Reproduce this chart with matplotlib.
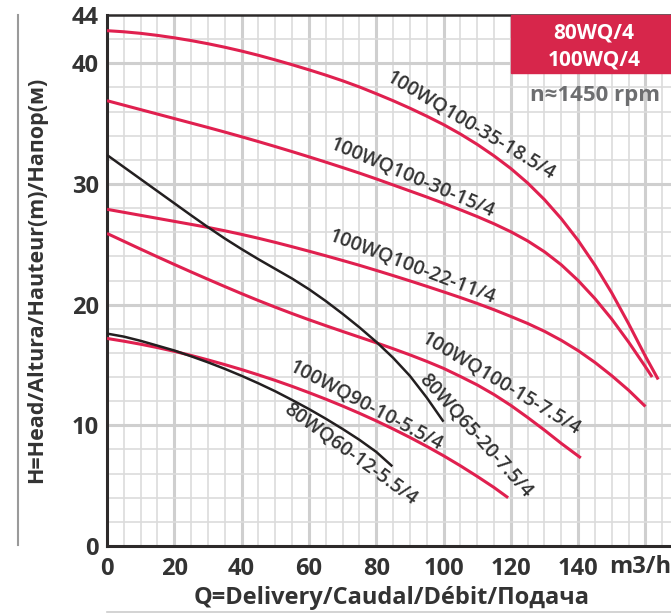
import matplotlib
matplotlib.use("Agg")
import matplotlib.pyplot as plt
from matplotlib.lines import Line2D
from matplotlib.patches import Rectangle

plt.rcParams['font.family'] = ['Open Sans', 'DejaVu Sans']

# flow (m3/h) and head (m)
q_35 = [0, 5, 10, 15, 20, 25, 30, 35, 40, 45, 50, 55, 60, 65, 70, 75, 80, 85, 90, 95,
        100, 105, 110, 115, 120, 125, 130, 135, 140, 145, 150, 155, 160, 163.8]
h_35 = [42.7, 42.61, 42.48, 42.31, 42.11, 41.88, 41.62, 41.33, 41.01, 40.66, 40.28, 39.88, 39.46, 39.02, 38.55, 38.04, 37.48, 36.9, 36.28, 35.62,
        34.92, 34.14, 33.28, 32.33, 31.28, 30.08, 28.7, 27.12, 25.32, 23.27, 20.97, 18.42, 15.72, 13.8]

q_30 = [0, 5, 10, 15, 20, 25, 30, 35, 40, 45, 50, 55, 60, 65, 70, 75, 80, 85, 90, 95,
        100, 105, 110, 115, 120, 125, 130, 135, 140, 145, 150, 155, 160, 162]
h_30 = [36.9, 36.53, 36.16, 35.79, 35.42, 35.05, 34.68, 34.3, 33.91, 33.51, 33.1, 32.68, 32.25, 31.81, 31.36, 30.9, 30.42, 29.92, 29.42, 28.92,
        28.4, 27.86, 27.3, 26.7, 26.04, 25.28, 24.38, 23.3, 22.0, 20.5, 18.8, 16.9, 14.85, 14.0]

q_22 = [0, 5, 10, 15, 20, 25, 30, 35, 40, 45, 50, 55, 60, 65, 70, 75, 80, 85, 90, 95,
        100, 105, 110, 115, 120, 125, 130, 135, 140, 145, 150, 155, 160]
h_22 = [27.9, 27.65, 27.4, 27.15, 26.9, 26.65, 26.4, 26.12, 25.82, 25.5, 25.16, 24.8, 24.43, 24.05, 23.66, 23.26, 22.84, 22.41, 21.97, 21.52,
        21.06, 20.59, 20.1, 19.58, 19.02, 18.44, 17.79, 17.04, 16.19, 15.21, 14.11, 12.91, 11.56]

q_15 = [0, 5, 10, 15, 20, 25, 30, 35, 40, 45, 50, 55, 60, 65, 70, 75, 80, 85, 90, 95,
        100, 105, 110, 115, 120, 125, 130, 135, 140.8]
h_15 = [25.9, 25.25, 24.6, 23.96, 23.33, 22.71, 22.1, 21.5, 20.91, 20.34, 19.79, 19.26, 18.75, 18.26, 17.78, 17.31, 16.84, 16.35, 15.84, 15.3,
        14.72, 14.05, 13.35, 12.55, 11.65, 10.65, 9.6, 8.5, 7.3]

q_90 = [0, 5, 10, 15, 20, 25, 30, 35, 40, 45, 50, 55, 60, 65, 70, 75, 80, 85, 90, 95,
        100, 105, 110, 115, 119.2]
h_90 = [17.2, 16.97, 16.72, 16.44, 16.13, 15.79, 15.42, 15.03, 14.62, 14.18, 13.72, 13.23, 12.71, 12.17, 11.6, 11.0, 10.37, 9.7, 9.0, 8.26,
        7.48, 6.65, 5.77, 4.85, 4.0]

q_60 = [0, 5, 10, 15, 20, 25, 30, 35, 40, 45, 50, 55, 60, 65, 70, 75, 80, 84.8]
h_60 = [17.6, 17.35, 17.0, 16.6, 16.2, 15.72, 15.22, 14.68, 14.1, 13.48, 12.82, 12.1, 11.35, 10.55, 9.7, 8.8, 7.8, 6.6]

q_65 = [0, 5, 10, 15, 20, 25, 30, 35, 40, 45, 50, 55, 60, 65, 70, 75, 80, 85, 90, 95, 100]
h_65 = [32.4, 31.4, 30.4, 29.4, 28.4, 27.4, 26.42, 25.48, 24.6, 23.76, 22.96, 22.16, 21.28, 20.3, 19.24, 18.12, 16.92, 15.6, 14.1, 12.3, 10.3]

labels = ["100WQ100-35-18.5/4", "100WQ100-30-15/4", "100WQ100-22-11/4",
          "100WQ100-15-7.5/4", "80WQ65-20-7.5/4", "100WQ90-10-5.5/4", "80WQ60-12-5.5/4"]
label_xy = [(108, 34.8), (90.8, 30.5), (90.5, 23.1), (117, 13.4), (109.5, 9.1), (76.8, 11.6), (72.3, 7.6)]
label_rot = [-31, -23, -21, -31, -48, -28, -36]

x_ticks = [0, 20, 40, 60, 80, 100, 120, 140]
y_ticks = [0, 10, 20, 30, 40, 44]

red = '#e0204f'
black = '#231f20'
dark = '#333333'

fig = plt.figure(figsize=(6.71, 6.14), dpi=100)
ax = fig.add_axes([107 / 671, 68 / 614, 564 / 671, 531 / 614])
ax.set_xlim(0, 167.6)
ax.set_ylim(0, 44)

# grid
for v in range(5, 170, 5):
    if v % 20 == 0:
        ax.axvline(v, color='#cfcfcf', lw=2.2, zorder=0)
    else:
        ax.axvline(v, color='#dcdcdc', lw=1.2, zorder=0)
for v in range(2, 44, 2):
    if v % 10 == 0:
        ax.axhline(v, color='#cfcfcf', lw=2.2, zorder=0)
    else:
        ax.axhline(v, color='#dcdcdc', lw=1.2, zorder=0)

# curves
for q, h in [(q_35, h_35), (q_30, h_30), (q_22, h_22), (q_15, h_15), (q_90, h_90)]:
    ax.plot(q, h, color=red, lw=2.2, zorder=3, solid_capstyle='butt', solid_joinstyle='round')
for q, h in [(q_60, h_60), (q_65, h_65)]:
    ax.plot(q, h, color=black, lw=1.8, zorder=4, solid_capstyle='butt', solid_joinstyle='round')

for s, (x, y), r in zip(labels, label_xy, label_rot):
    ax.text(x, y, s, rotation=r, ha='center', va='center', rotation_mode='anchor',
            fontsize=14, fontweight='semibold', color=dark, zorder=5)

ax.set_xticks(x_ticks)
ax.set_yticks(y_ticks)
ax.tick_params(length=0, labelsize=17, labelcolor=dark)
ax.tick_params(axis='x', pad=8)
ax.tick_params(axis='y', pad=6)
for t in ax.get_xticklabels() + ax.get_yticklabels():
    t.set_fontweight('bold')

ax.spines['right'].set_visible(False)
ax.spines['left'].set_linewidth(2.2)
ax.spines['bottom'].set_linewidth(2.2)
ax.spines['top'].set_linewidth(1.8)
for s in ['left', 'bottom', 'top']:
    ax.spines[s].set_color('#2d2a2a')

fig.text(609 / 671, 1 - 567 / 614, "m3/h", fontsize=17, fontweight='bold', color=dark,
         ha='left', va='center')
fig.text(392 / 671, 1 - 598 / 614, "Q=Delivery/Caudal/Débit/Подача", fontsize=17,
         fontweight='bold', color=dark, ha='center', va='center')
fig.text(37 / 671, 1 - 280 / 614, "H=Head/Altura/Hauteur(m)/Напор(м)", fontsize=15.5,
         fontweight='bold', color=dark, ha='center', va='center', rotation=90)

# model box
fig.patches.append(Rectangle((511 / 671, 1 - 73 / 614), 160 / 671, 58 / 614,
                             transform=fig.transFigure, color='#d7264b', zorder=6))
fig.text(594 / 671, 1 - 33 / 614, "80WQ/4", fontsize=15, fontweight='bold', color='white',
         ha='center', va='center', zorder=7)
fig.text(594 / 671, 1 - 60 / 614, "100WQ/4", fontsize=15, fontweight='bold', color='white',
         ha='center', va='center', zorder=7)
fig.text(595 / 671, 1 - 95 / 614, "n≈1450 rpm", fontsize=16, fontweight='bold', color='#6d6e70',
         ha='center', va='center', zorder=7)

# thin frame lines
fig.add_artist(Line2D([18 / 671, 18 / 671], [1 - 15 / 614, 1 - 545 / 614], color='#9a9a9a', lw=1.5))
fig.add_artist(Line2D([107 / 671, 1], [1 - 612 / 614, 1 - 612 / 614], color='#cccccc', lw=1.2))

fig.savefig('out.png', dpi=100)
